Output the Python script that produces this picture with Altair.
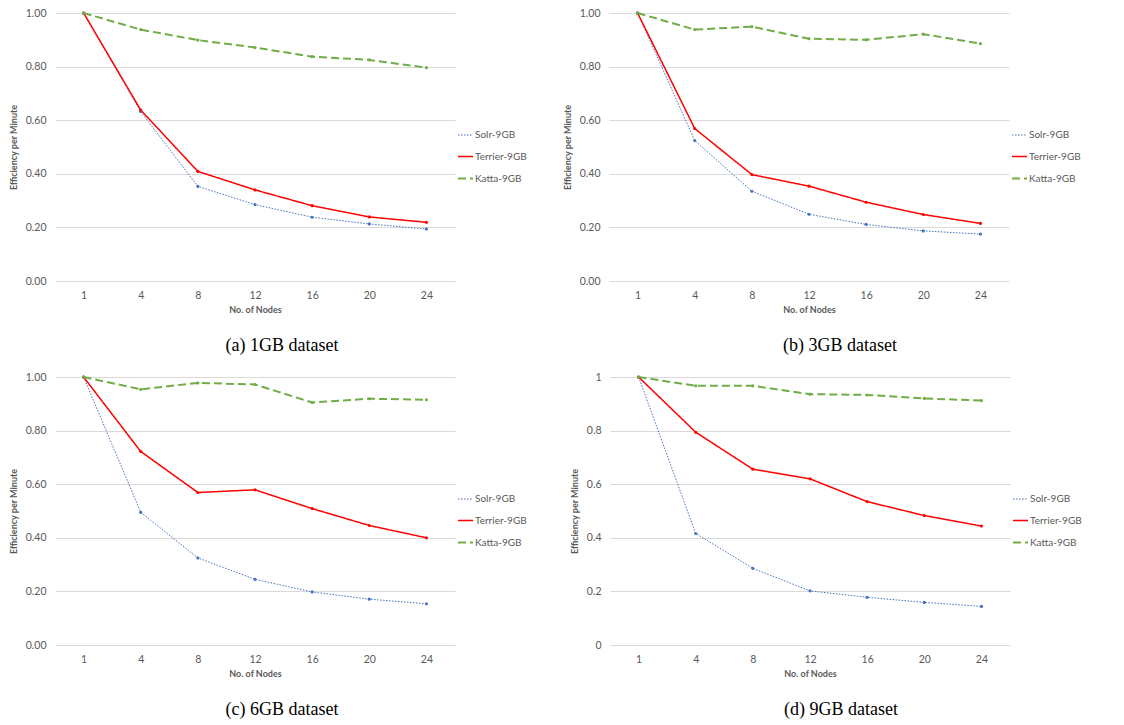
import altair as alt
import pandas as pd

nodes = ["1", "4", "8", "12", "16", "20", "24"]
series = ["Solr-9GB", "Terrier-9GB", "Katta-9GB"]
colors = ["#4472C4", "#FF0000", "#70AD47"]

solr_1gb = [1.0, 0.632, 0.353, 0.285, 0.238, 0.213, 0.194]
terrier_1gb = [1.0, 0.638, 0.409, 0.340, 0.281, 0.239, 0.219]
katta_1gb = [1.0, 0.938, 0.899, 0.871, 0.837, 0.825, 0.796]

solr_3gb = [1.0, 0.524, 0.335, 0.249, 0.211, 0.187, 0.175]
terrier_3gb = [1.0, 0.569, 0.397, 0.354, 0.294, 0.248, 0.215]
katta_3gb = [1.0, 0.938, 0.949, 0.904, 0.900, 0.921, 0.886]

solr_6gb = [1.0, 0.495, 0.325, 0.245, 0.198, 0.171, 0.154]
terrier_6gb = [1.0, 0.722, 0.569, 0.579, 0.509, 0.446, 0.400]
katta_6gb = [1.0, 0.954, 0.978, 0.972, 0.905, 0.919, 0.915]

solr_9gb = [1.0, 0.416, 0.286, 0.202, 0.178, 0.159, 0.144]
terrier_9gb = [1.0, 0.794, 0.656, 0.620, 0.535, 0.483, 0.444]
katta_9gb = [1.0, 0.967, 0.967, 0.936, 0.933, 0.920, 0.912]

captions = ["(a) 1GB dataset", "(b) 3GB dataset", "(c) 6GB dataset", "(d) 9GB dataset"]
y_ticks = [0, 0.2, 0.4, 0.6, 0.8, 1.0]

AX_FONT = "Lato"
GRAY = "#595959"


def panel(solr, terrier, katta, caption, fmt, dx):
    rows = []
    for name, vals in zip(series, [solr, terrier, katta]):
        for n, v in zip(nodes, vals):
            rows.append({"nodes": n, "value": v, "series": name})
    df = pd.DataFrame(rows)
    legend = alt.Legend(
        title=None, orient="none", legendX=402, legendY=114,
        symbolType="stroke", symbolSize=225, symbolStrokeWidth=2,
        labelFont=AX_FONT, labelFontSize=10, labelColor=GRAY,
        labelOffset=1, rowPadding=8,
    )
    chart = alt.Chart(df).mark_line(
        point=alt.OverlayMarkDef(filled=True, size=10)
    ).encode(
        x=alt.X("nodes:O", sort=nodes,
                scale=alt.Scale(type="point", padding=0.5),
                axis=alt.Axis(title="No. of Nodes", labelAngle=0, grid=False,
                              domain=False, ticks=False, labelPadding=9,
                              titlePadding=5, labelFont=AX_FONT, labelFontSize=10.5,
                              labelColor=GRAY, titleFont=AX_FONT, titleFontSize=9,
                              titleFontWeight="bold", titleColor=GRAY)),
        y=alt.Y("value:Q", scale=alt.Scale(domain=[0, 1], nice=False),
                axis=alt.Axis(title="Efficiency per Minute", values=y_ticks, format=fmt,
                              grid=True, gridColor="#d9d9d9", domain=False, ticks=False,
                              labelPadding=9, titlePadding=7, labelFont=AX_FONT,
                              labelFontSize=10.5, labelColor=GRAY, titleFont=AX_FONT,
                              titleFontSize=9, titleFontWeight="bold", titleColor=GRAY)),
        color=alt.Color("series:N", sort=series,
                        scale=alt.Scale(domain=series, range=colors), legend=legend),
        strokeDash=alt.StrokeDash("series:N", sort=series,
                                  scale=alt.Scale(domain=series, range=[[1.5, 1.5], [1, 0], [8, 4]]),
                                  legend=legend),
        strokeWidth=alt.StrokeWidth("series:N", sort=series,
                                    scale=alt.Scale(domain=series, range=[1, 2, 2]),
                                    legend=legend),
    ).properties(
        width=400, height=268,
        title=alt.TitleParams(text=caption, orient="bottom", font="Liberation Serif",
                              fontSize=18, fontWeight="normal", color="black",
                              anchor="middle", offset=22, dx=dx),
    )
    return chart


def independent(c):
    return c.resolve_scale(
        color="independent", strokeDash="independent", strokeWidth="independent"
    ).resolve_legend(
        color="independent", strokeDash="independent", strokeWidth="independent"
    )


pa = panel(solr_1gb, terrier_1gb, katta_1gb, captions[0], ".2f", 27)
pb = panel(solr_3gb, terrier_3gb, katta_3gb, captions[1], ".2f", 31)
pc = panel(solr_6gb, terrier_6gb, katta_6gb, captions[2], ".2f", 27)
pd_ = panel(solr_9gb, terrier_9gb, katta_9gb, captions[3], "~g", 31)

chart = independent(alt.vconcat(
    independent(alt.hconcat(pa, pb, spacing=36)),
    independent(alt.hconcat(pc, pd_, spacing=43)),
    spacing=17,
)).properties(
    padding={"left": 1, "top": 0, "right": 0, "bottom": 0}
).configure_view(stroke=None)

chart.save("out.html", embed_options={"renderer": "svg", "actions": False})
